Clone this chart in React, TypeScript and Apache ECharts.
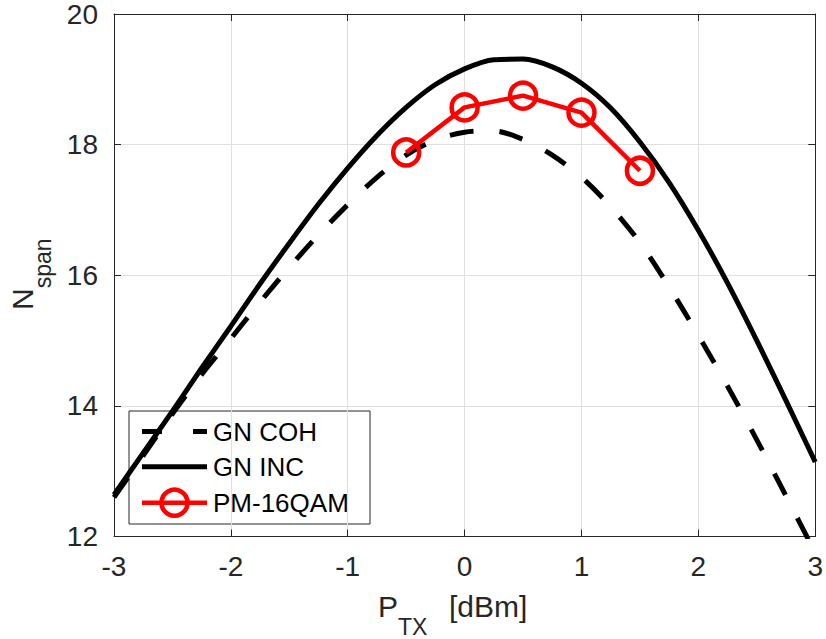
import React, { useEffect, useRef } from "react";
import * as echarts from "echarts";

const FONT = "'Liberation Sans', Arial, Helvetica, sans-serif";

// Transmit power grid [dBm]
const ptx = [-3, -2.75, -2.5, -2.25, -2, -1.75, -1.5, -1.25, -1, -0.75, -0.5, -0.25, 0, 0.25, 0.5, 0.75, 1, 1.25, 1.5, 1.75, 2, 2.25, 2.5, 2.75, 3];
// GN model, coherent accumulation (dashed)
const gnCoh = [12.6, 13.24, 13.88, 14.48, 15.03, 15.59, 16.12, 16.62, 17.08, 17.5, 17.84, 18.07, 18.19, 18.21, 18.08, 17.84, 17.5, 17.05, 16.5, 15.82, 15.08, 14.3, 13.48, 12.62, 11.75];
// GN model, incoherent accumulation (solid)
const gnInc = [12.64, 13.28, 13.92, 14.58, 15.22, 15.87, 16.49, 17.09, 17.64, 18.14, 18.57, 18.92, 19.16, 19.3, 19.31, 19.19, 18.94, 18.56, 18.04, 17.42, 16.69, 15.88, 15.0, 14.08, 13.14];
// Measured PM-16QAM
const pmX = [-0.5, 0, 0.5, 1, 1.5];
const pmY = [17.88, 18.57, 18.75, 18.49, 17.6];

const legendNames = ["GN COH", "GN INC", "PM-16QAM"];

export default function App() {
  const ref = useRef<HTMLDivElement>(null);
  useEffect(() => {
    if (!ref.current) return;
    const chart = echarts.init(ref.current, null, { renderer: "svg" });
    const axisColor = "#262626";
    const baseX = {
      type: "value" as const,
      min: -3,
      max: 3,
      interval: 1,
      axisLine: { show: true, onZero: false, lineStyle: { color: axisColor, width: 1 } },
      axisTick: { show: true, inside: true, length: 7, lineStyle: { color: axisColor } },
    };
    const baseY = {
      type: "value" as const,
      min: 12,
      max: 20,
      interval: 2,
      axisLine: { show: true, onZero: false, lineStyle: { color: axisColor, width: 1 } },
      axisTick: { show: true, inside: true, length: 7, lineStyle: { color: axisColor } },
    };
    const legendRows = [431.5, 466.7, 502.7];
    chart.setOption({
      animation: false,
      backgroundColor: "#ffffff",
      grid: { left: 114, top: 11, right: 10, bottom: 102.5, containLabel: false },
      xAxis: [
        {
          ...baseX,
          position: "bottom",
          axisLabel: { fontSize: 28, color: axisColor, margin: 16, fontFamily: FONT },
          splitLine: { show: true, lineStyle: { color: "#dfdfdf", width: 1 } },
        },
        { ...baseX, position: "top", axisLabel: { show: false }, splitLine: { show: false } },
      ],
      yAxis: [
        {
          ...baseY,
          position: "left",
          axisLabel: { fontSize: 28, color: axisColor, margin: 16, fontFamily: FONT },
          splitLine: { show: true, lineStyle: { color: "#dfdfdf", width: 1 } },
        },
        { ...baseY, position: "right", axisLabel: { show: false }, splitLine: { show: false } },
      ],
      series: [
        {
          name: legendNames[0],
          type: "line",
          data: ptx.map((x, i) => [x, gnCoh[i]]),
          symbol: "none",
          smooth: 0.3,
          clip: true,
          lineStyle: { color: "#000000", width: 5, type: [24, 26] },
          z: 2,
        },
        {
          name: legendNames[1],
          type: "line",
          data: ptx.map((x, i) => [x, gnInc[i]]),
          symbol: "none",
          smooth: 0.3,
          clip: true,
          lineStyle: { color: "#000000", width: 5 },
          z: 3,
        },
        {
          name: legendNames[2],
          type: "line",
          data: pmX.map((x, i) => [x, pmY[i]]),
          symbol: "circle",
          symbolSize: 26,
          itemStyle: { color: "rgba(0,0,0,0)", borderColor: "#ff0000", borderWidth: 4.5 },
          lineStyle: { color: "#ff0000", width: 4.5 },
          z: 4,
        },
      ],
      graphic: [
        {
          type: "group",
          z: 100,
          children: [
            {
              type: "rect",
              shape: { x: 129, y: 411, width: 241, height: 113 },
              style: { fill: "#ffffff", stroke: axisColor, lineWidth: 1 },
            },
            {
              type: "line",
              shape: { x1: 142, y1: legendRows[0], x2: 207, y2: legendRows[0] },
              style: { stroke: "#000000", lineWidth: 5, lineDash: [20, 31] },
            },
            {
              type: "line",
              shape: { x1: 142, y1: legendRows[1], x2: 207, y2: legendRows[1] },
              style: { stroke: "#000000", lineWidth: 5 },
            },
            {
              type: "line",
              shape: { x1: 142, y1: legendRows[2], x2: 207, y2: legendRows[2] },
              style: { stroke: "#ff0000", lineWidth: 4.5 },
            },
            {
              type: "circle",
              shape: { cx: 174.5, cy: legendRows[2], r: 13 },
              style: { fill: "none", stroke: "#ff0000", lineWidth: 4.5 },
            },
            ...legendNames.map((n, i) => ({
              type: "text",
              x: 213,
              y: legendRows[i],
              style: { text: n, fontSize: 26, fontFamily: FONT, fill: "#000000", align: "left", verticalAlign: "middle" },
            })),
          ],
        },
        // x axis title P_TX [dBm]
        { type: "text", x: 378, y: 606.6, style: { text: "P", fontSize: 30, fontFamily: FONT, fill: axisColor, align: "left", verticalAlign: "middle" } },
        { type: "text", x: 398, y: 626.7, style: { text: "TX", fontSize: 23, fontFamily: FONT, fill: axisColor, align: "left", verticalAlign: "middle" } },
        { type: "text", x: 449, y: 606.6, style: { text: "[dBm]", fontSize: 30, fontFamily: FONT, fill: axisColor, align: "left", verticalAlign: "middle" } },
        // y axis title N_span
        { type: "text", x: 22.6, y: 310, rotation: Math.PI / 2, style: { text: "N", fontSize: 30, fontFamily: FONT, fill: axisColor, align: "left", verticalAlign: "middle" } },
        { type: "text", x: 43, y: 288.3, rotation: Math.PI / 2, style: { text: "span", fontSize: 23, fontFamily: FONT, fill: axisColor, align: "left", verticalAlign: "middle" } },
      ],
    });
    return () => chart.dispose();
  }, []);
  return <div ref={ref} style={{ position: "fixed", left: 0, top: 0, width: 826, height: 639 }} />;
}
